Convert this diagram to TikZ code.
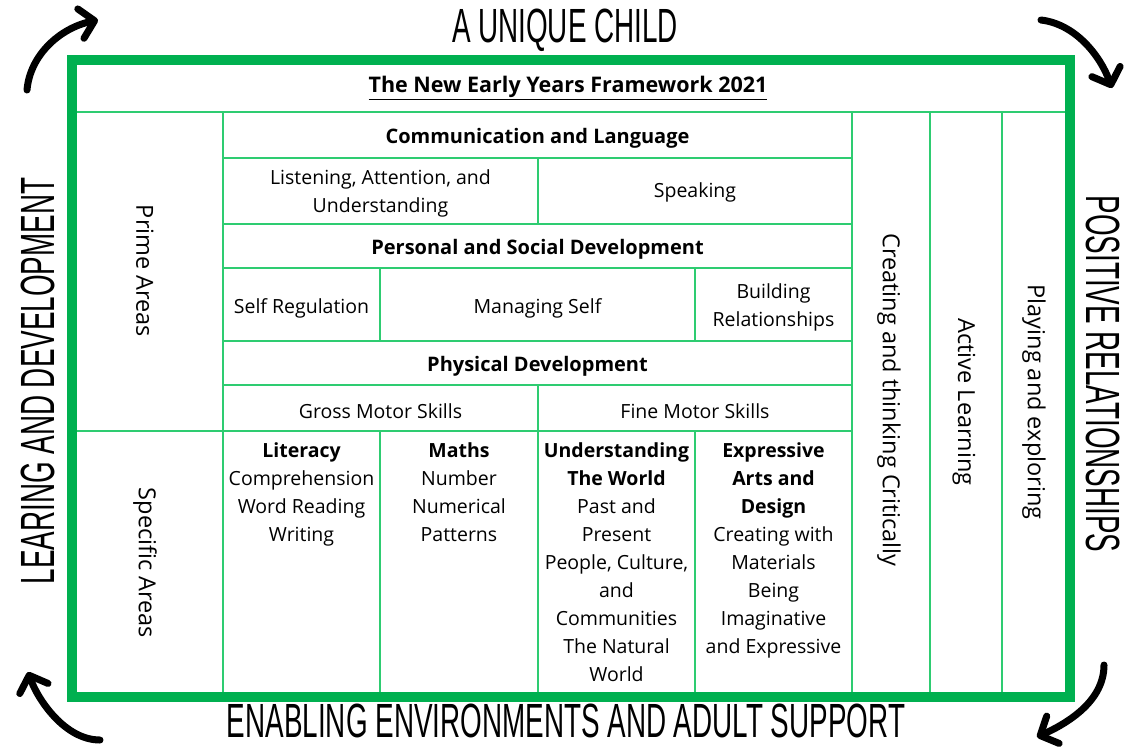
\documentclass[tikz,border=0pt]{standalone}
\usepackage{fontspec}
\setmainfont{Open Sans}
\newfontfamily\markerfont[FakeStretch=0.58]{Liberation Sans}
\usetikzlibrary{arrows.meta}
\definecolor{framegreen}{RGB}{0,176,80}
\definecolor{gridgreen}{RGB}{46,204,113}

\begin{document}
\begin{tikzpicture}[x=1pt, y=-1pt]
    \tikzstyle{cell} = [align=center, inner sep=0pt, font=\fontsize{19.5}{28}\selectfont]
    \tikzstyle{head} = [align=center, inner sep=0pt, font=\fontsize{20}{28}\selectfont\bfseries]
    \tikzstyle{upright} = [align=center, inner sep=0pt, rotate=-90, font=\fontsize{23.5}{28}\selectfont]
    \tikzstyle{side} = [inner sep=0pt, font=\markerfont\fontsize{48}{48}\selectfont]
    \tikzstyle{grid} = [gridgreen, line width=2pt]
    \tikzstyle{curl} = [line width=7pt, line cap=round, -{Straight Barb[round, length=14pt, width=30pt]}]

    \useasboundingbox (0,0) rectangle (1124,748);

    % Draw grid lines
    \draw[grid] (72,112) -- (1070,112);
    \foreach \y in {158,224,268,341,385} {
        \draw[grid] (223,\y) -- (852,\y);
    }
    \draw[grid] (72,431) -- (852,431);

    % Vertical lines through the whole body
    \foreach \x in {223,852,930,1002} {
        \draw[grid] (\x,112) -- (\x,697);
    }
    % Cell dividers inside the rows
    \draw[grid] (538,158) -- (538,224);
    \draw[grid] (380,268) -- (380,341);
    \draw[grid] (695,268) -- (695,341);
    \draw[grid] (538,385) -- (538,431);
    \foreach \x in {380,538,695} {
        \draw[grid] (\x,431) -- (\x,697);
    }

    % Thick outer frame
    \draw[framegreen, line width=10pt] (71.5,59.5) rectangle (1070,697);

    % Title row
    \node[head, font=\fontsize{21.5}{28}\selectfont\bfseries] (title) at (568,88) {\underline{The New Early Years Framework 2021}};

    % Prime areas
    \node[head] (comlang) at (537.5,138) {Communication and Language};
    \node[cell] (listen) at (380.5,193) {Listening, Attention, and\\Understanding};
    \node[cell] (speak) at (695,192) {Speaking};
    \node[head] (psd) at (537.5,249) {Personal and Social Development};
    \node[cell] (selfreg) at (301.5,308) {Self Regulation};
    \node[cell] (mngself) at (537.5,308) {Managing Self};
    \node[cell] (buildrel) at (773.5,307) {Building\\Relationships};
    \node[head] (physdev) at (537.5,366) {Physical Development};
    \node[cell] (gross) at (380.5,411) {Gross Motor Skills};
    \node[cell] (fine) at (695,411) {Fine Motor Skills};

    % Specific areas
    \node[cell, anchor=north] (literacy) at (301.5,442) {\textbf{Literacy}\\Comprehension\\Word Reading\\Writing};
    \node[cell, anchor=north] (maths) at (459,442) {\textbf{Maths}\\Number\\Numerical\\Patterns};
    \node[cell, anchor=north] (utw) at (616.5,442) {\textbf{Understanding}\\\textbf{The World}\\Past and\\Present\\People, Culture,\\and\\Communities\\The Natural\\World};
    \node[cell, anchor=north] (ead) at (773.5,442) {\textbf{Expressive}\\\textbf{Arts and}\\\textbf{Design}\\Creating with\\Materials\\Being\\Imaginative\\and Expressive};

    % Rotated column labels
    \node[upright] (prime) at (145,271) {Prime Areas};
    \node[upright] (specific) at (145,563) {Specific Areas};
    \node[upright] (ctc) at (889,400) {Creating and thinking Critically};
    \node[upright] (active) at (964,402) {Active Learning};
    \node[upright] (playing) at (1034,402) {Playing and exploring};

    % Themes round the frame
    \node[side] (unique) at (565,30) {A UNIQUE CHILD};
    \node[side] (enabling) at (566,721) {ENABLING ENVIRONMENTS AND ADULT SUPPORT};
    \node[side, rotate=90] (learndev) at (38,381) {LEARING AND DEVELOPMENT};
    \node[side, rotate=-90] (posrel) at (1103,374) {POSITIVE RELATIONSHIPS};

    % Corner arrows
    \coordinate (tlA) at (27,90);    \coordinate (tlB) at (98,20);
    \coordinate (trA) at (1041,20);  \coordinate (trB) at (1112,88);
    \coordinate (brA) at (1104,665); \coordinate (brB) at (1037,737);
    \coordinate (blA) at (100,740);  \coordinate (blB) at (28,672);
    \draw[curl] (tlA) .. controls (30,55) and (60,28) .. (tlB);
    \draw[curl] (trA) .. controls (1075,24) and (1100,55) .. (trB);
    \draw[curl] (brA) .. controls (1104,700) and (1070,722) .. (brB);
    \draw[curl] (blA) .. controls (65,740) and (38,700) .. (blB);
\end{tikzpicture}
\end{document}
